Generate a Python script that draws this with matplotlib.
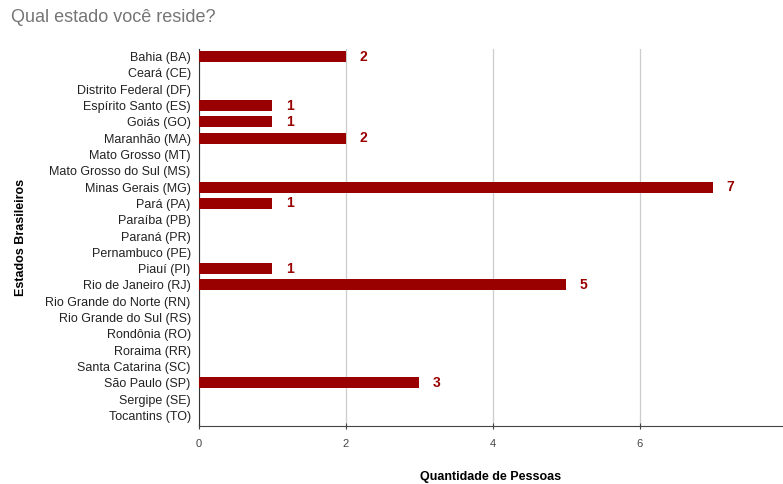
import matplotlib.pyplot as plt

plt.rcParams["font.family"] = ["Liberation Sans", "DejaVu Sans"]

estados = ["Bahia (BA)", "Ceará (CE)", "Distrito Federal (DF)", "Espírito Santo (ES)",
           "Goiás (GO)", "Maranhão (MA)", "Mato Grosso (MT)", "Mato Grosso do Sul (MS)",
           "Minas Gerais (MG)", "Pará (PA)", "Paraíba (PB)", "Paraná (PR)",
           "Pernambuco (PE)", "Piauí (PI)", "Rio de Janeiro (RJ)", "Rio Grande do Norte (RN)",
           "Rio Grande do Sul (RS)", "Rondônia (RO)", "Roraima (RR)", "Santa Catarina (SC)",
           "São Paulo (SP)", "Sergipe (SE)", "Tocantins (TO)"]
pessoas = [2, 0, 0, 1, 1, 2, 0, 0, 7, 1, 0, 0, 0, 1, 5, 0, 0, 0, 0, 0, 3, 0, 0]
xticks = [0, 2, 4, 6]

cor = "#990000"

fig = plt.figure(figsize=(7.83, 4.84), dpi=100)
ax = fig.add_axes([199 / 783, 1 - 426 / 484, 1 - 199 / 783, (426 - 48.5) / 484])

y = list(range(len(estados)))
ax.barh(y, pessoas, height=0.67, color=cor, zorder=3)
for yi, v in zip(y, pessoas):
    if v > 0:
        ax.text(v + 0.18, yi, str(v), color=cor, fontweight="bold", fontsize=10,
                va="center", ha="left")

ax.set_yticks(y)
ax.set_yticklabels(estados, fontsize=9, color="#222222")
ax.set_ylim(len(estados) - 0.35, -0.5)
ax.set_xlim(0, 7.95)
ax.set_xticks(xticks)
ax.tick_params(axis="x", labelsize=8, colors="#444444", direction="inout", length=5,
               pad=7)
ax.tick_params(axis="y", length=0, pad=6)
ax.grid(axis="x", color="#cccccc", linewidth=0.9, zorder=0)

for s in ["top", "right"]:
    ax.spines[s].set_visible(False)
ax.spines["left"].set_color("#333333")
ax.spines["bottom"].set_color("#444444")

ax.set_xlabel("Quantidade de Pessoas", fontsize=9, fontweight="bold")
ax.set_ylabel("Estados Brasileiros", fontsize=9, fontweight="bold", labelpad=13)
ax.xaxis.set_label_coords(0.5, -45 / 377.5)

fig.text(11 / 783, 1 - 18 / 484, "Qual estado você reside?", fontsize=13,
         color="#757575", va="center", ha="left")

plt.savefig("out.png", dpi=100)
